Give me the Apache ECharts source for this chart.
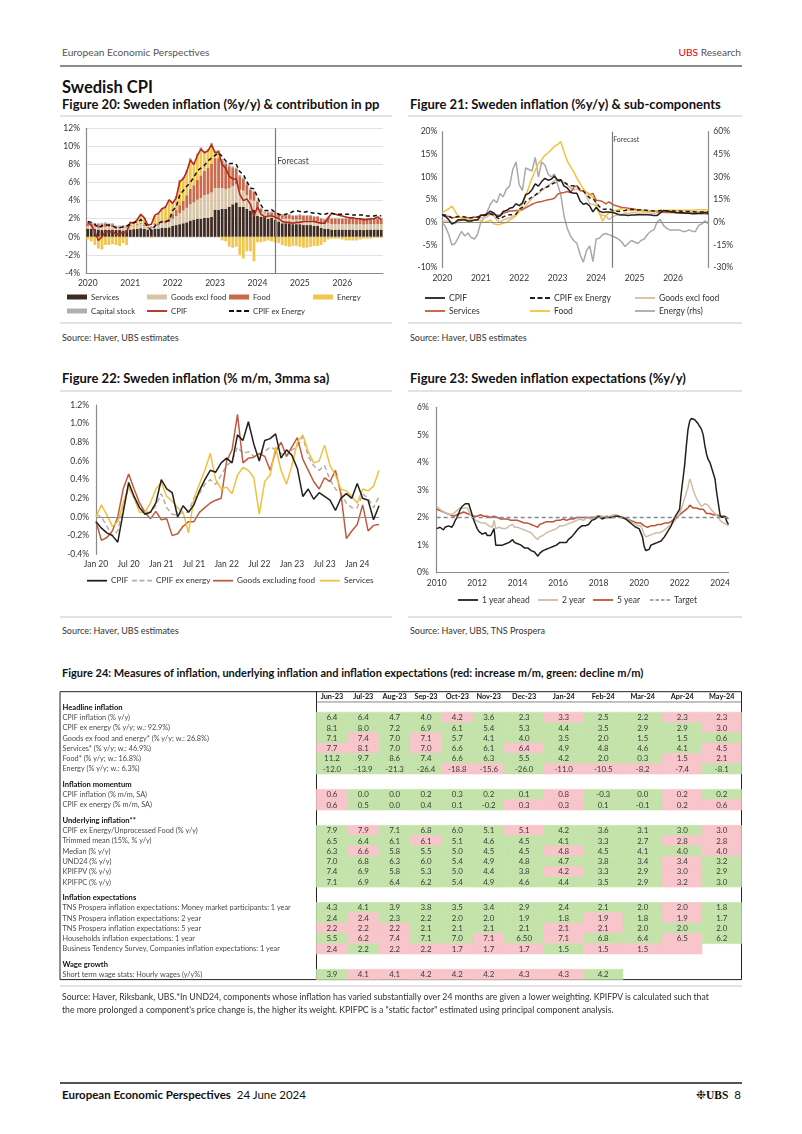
<!DOCTYPE html>
<html><head><meta charset="utf-8"><title>Swedish CPI</title>
<script src="https://cdn.jsdelivr.net/npm/echarts/dist/echarts.min.js"></script>
<style>
html,body{margin:0;padding:0;background:#fff;}
body{width:802px;height:1134px;position:relative;overflow:hidden;font-family:Lato,"Open Sans",sans-serif;color:#222;}
.t{position:absolute;white-space:nowrap;}
.hl{position:absolute;}
.ch{position:absolute;}
.ft{font-weight:700;font-size:13px;line-height:15px;color:#111;}
.src{font-size:9px;line-height:11px;color:#333;}
</style></head><body>

<div class="t" style="left:62px;top:45.5px;font-size:10.2px;line-height:13px;color:#555">European Economic Perspectives</div>
<div class="t" style="right:61px;top:45.5px;font-size:10.2px;line-height:13px;color:#555"><span style="color:#e60000">UBS</span> Research</div>
<div class="hl" style="left:60px;top:65px;width:682px;height:1.5px;background:#8c8c8c"></div>

<div class="t" style="left:62px;top:77px;font-size:16.5px;line-height:20px;font-weight:700;color:#111">Swedish CPI</div>
<div class="t ft" style="left:62px;top:96.5px">Figure 20: Sweden inflation (%y/y) &amp; contribution in pp</div>
<div class="t ft" style="left:410px;top:96.5px">Figure 21: Sweden inflation (%y/y) &amp; sub-components</div>

<div class="hl" style="left:60px;top:115px;width:332px;height:1.5px;background:#e3e3e3"></div>
<div class="hl" style="left:408px;top:115px;width:334px;height:1.5px;background:#e3e3e3"></div>
<div class="hl" style="left:60px;top:322px;width:332px;height:1.5px;background:#e3e3e3"></div>
<div class="hl" style="left:408px;top:322px;width:334px;height:1.5px;background:#e3e3e3"></div>

<div id="c20" class="ch" style="left:55px;top:118px;width:340px;height:205px"></div>
<div id="c21" class="ch" style="left:405px;top:118px;width:340px;height:205px"></div>

<div class="t src" style="left:62px;top:331.5px">Source: Haver, UBS estimates</div>
<div class="t src" style="left:410px;top:331.5px">Source: Haver, UBS estimates</div>

<div class="t ft" style="left:62px;top:370.5px">Figure 22: Sweden inflation (% m/m, 3mma sa)</div>
<div class="t ft" style="left:410px;top:370.5px">Figure 23: Sweden inflation expectations (%y/y)</div>

<div class="hl" style="left:60px;top:390px;width:332px;height:1.5px;background:#e3e3e3"></div>
<div class="hl" style="left:408px;top:390px;width:334px;height:1.5px;background:#e3e3e3"></div>
<div class="hl" style="left:60px;top:616px;width:332px;height:1.5px;background:#e3e3e3"></div>
<div class="hl" style="left:408px;top:616px;width:334px;height:1.5px;background:#e3e3e3"></div>

<div id="c22" class="ch" style="left:55px;top:392px;width:340px;height:200px"></div>
<div id="c23" class="ch" style="left:405px;top:392px;width:340px;height:222px"></div>

<div class="t src" style="left:62px;top:624.5px">Source: Haver, UBS estimates</div>
<div class="t src" style="left:410px;top:624.5px">Source: Haver, UBS, TNS Prospera</div>

<div class="t" style="left:62px;top:666px;font-weight:700;font-size:11px;line-height:14px;color:#111">Figure 24: Measures of inflation, underlying inflation and inflation expectations (red: increase m/m, green: decline m/m)</div>

<div id="ct" class="ch" style="left:58px;top:686px;width:690px;height:300px"></div>

<div class="hl" style="left:60px;top:985px;width:682px;height:2px;background:#e3e3e3"></div>
<div class="t" style="left:62px;top:991px;font-size:8.7px;line-height:12.5px;color:#333">Source: Haver, Riksbank, UBS.*In UND24, components whose inflation has varied substantially over 24 months are given a lower weighting. KPIFPV is calculated such that<br>the more prolonged a component's price change is, the higher its weight. KPIFPC is a "static factor" estimated using principal component analysis.</div>

<div class="hl" style="left:60px;top:1082px;width:682px;height:1.5px;background:#555"></div>
<div class="t" style="left:62px;top:1088px;font-size:11.5px;line-height:14px;color:#111"><b>European Economic Perspectives</b>&nbsp; 24 June 2024</div>
<div class="t" style="right:61px;top:1088px;font-size:11.5px;line-height:14px;color:#111">&#10057;<span style="font-family:'Liberation Serif',serif;font-weight:700">UBS</span>&nbsp; 8</div>

<script>
// ---------------- DATA ----------------
// Figure 20 / 21 : monthly Jan 2020 - Dec 2026
const YEARS_20 = ['2020','2021','2022','2023','2024','2025','2026'];
const MONTH_NUMS = ['01','02','03','04','05','06','07','08','09','10','11','12'];
const FORECAST_START = '2024-06';

const S20_SERVICES = [
 0.9,0.9,0.85,0.8,0.75,0.8,0.8,0.8,0.75,0.75,0.7,0.75,
 0.8,0.85,0.9,0.95,0.9,0.8,0.8,0.9,0.9,1.0,1.0,1.05,
 1.2,1.3,1.4,1.5,1.6,1.8,1.9,2.0,2.0,2.1,2.1,2.2,
 3.0,3.0,3.1,3.1,3.3,3.6,3.8,3.3,3.3,3.1,2.9,3.0,
 2.3,2.2,2.2,2.0,2.1,1.9,1.7,1.5,1.5,1.5,1.4,1.4,
 1.4,1.3,1.3,1.3,1.2,1.2,1.0,0.9,0.9,0.8,0.8,0.8,
 0.8,0.8,0.8,0.8,0.75,0.8,0.75,0.8,0.8,0.8,0.8,0.8];
const S20_GOODS = [
 0.3,0.3,0.3,0.2,0.3,0.3,0.3,0.3,0.2,0.2,0.3,0.3,
 0.4,0.3,0.4,0.5,0.3,0.2,0.2,0.4,0.4,0.5,0.5,0.6,
 0.8,1.0,1.2,1.4,1.6,1.8,1.9,2.1,2.3,2.5,2.6,2.7,
 2.4,2.4,2.3,2.2,2.1,2.0,2.0,1.9,1.8,1.5,1.2,1.0,
 0.9,0.5,0.4,0.4,0.2,0.4,0.4,0.5,0.5,0.5,0.5,0.5,
 0.5,0.5,0.5,0.5,0.5,0.5,0.5,0.5,0.6,0.6,0.6,0.6,
 0.6,0.6,0.6,0.6,0.6,0.6,0.6,0.6,0.6,0.6,0.6,0.6];
const S20_FOOD = [
 0.3,0.3,0.3,0.4,0.4,0.4,0.3,0.3,0.2,0.2,0.2,0.1,
 0.1,0.1,0.1,0.1,0.1,0.1,0.1,0.2,0.2,0.3,0.3,0.4,
 0.5,0.7,0.9,1.1,1.4,1.7,1.9,2.2,2.5,2.7,2.9,3.2,
 3.3,3.3,3.0,2.8,2.4,2.0,1.7,1.5,1.3,1.2,1.1,1.0,
 0.7,0.4,0.1,0.3,0.4,0.4,0.4,0.4,0.4,0.4,0.4,0.4,
 0.5,0.5,0.5,0.5,0.5,0.5,0.5,0.5,0.6,0.6,0.6,0.6,
 0.6,0.6,0.6,0.6,0.6,0.6,0.6,0.6,0.6,0.6,0.6,0.6];
const S20_ENERGY = [
 -0.3,-0.5,-0.9,-1.3,-1.4,-0.9,-0.9,-0.8,-0.9,-1.0,-0.7,-0.9,
 0.2,0.2,0.4,0.8,0.6,0.1,-0.1,0.7,0.9,1.2,1.4,1.9,
 1.2,1.3,2.6,2.4,2.6,3.2,2.3,2.7,2.9,2.0,1.9,2.1,
 0.6,0.7,-0.4,-0.5,-1.1,-1.2,-1.1,-2.0,-2.4,-1.6,-1.6,-2.7,
 -0.6,-0.6,-0.5,-0.4,-0.5,-0.6,-0.7,-0.9,-1.0,-1.1,-1.0,-1.0,
 -1.1,-1.2,-1.2,-1.1,-1.0,-1.0,-0.9,-0.6,-0.3,-0.2,-0.2,-0.2,
 -0.3,-0.4,-0.4,-0.4,-0.4,-0.3,-0.2,-0.2,-0.2,-0.1,-0.1,-0.1];
const S20_CAPITAL = [
 0.15,0.15,0.1,0.1,0.1,0.1,0.1,0.1,0.1,0.1,0.1,0.1,
 0.1,0.1,0.1,0.1,0.1,0.1,0.1,0.1,0.15,0.15,0.15,0.15,
 0.2,0.2,0.2,0.2,0.2,0.2,0.2,0.2,0.2,0.2,0.2,0.2,
 0.2,0.2,0.2,0.2,0.2,0.2,0.15,0.15,0.15,0.15,0.1,0.1,
 0.1,0.1,0.1,0.1,0.1,0.1,0.1,0.1,0.1,0.1,0.1,0.1,
 0.1,0.1,0.1,0.1,0.1,0.1,0.1,0.1,0.1,0.1,0.1,0.1,
 0.1,0.1,0.1,0.1,0.1,0.1,0.1,0.1,0.1,0.1,0.1,0.1];
const CPIF = [
 1.6,1.3,0.6,-0.4,0.0,0.6,0.5,0.6,0.3,0.3,0.5,0.5,
 1.6,1.5,1.9,2.5,2.1,1.3,1.4,2.4,2.6,3.1,3.3,4.1,
 3.7,4.3,6.1,6.4,7.2,8.5,8.0,9.0,9.7,9.3,9.5,10.2,
 9.3,9.4,8.0,7.6,6.7,6.4,6.4,4.7,4.0,4.2,3.6,2.3,
 3.3,2.5,2.2,2.3,2.3,2.2,2.0,1.7,1.6,1.6,1.5,1.6,
 1.6,1.7,1.7,1.7,1.7,1.6,1.5,1.5,2.1,2.6,2.5,2.4,
 2.3,2.2,2.1,2.1,2.0,2.0,1.9,1.9,2.0,2.0,2.2,1.9];
const CPIF_EX_ENERGY = [
 1.7,1.6,1.4,1.0,1.2,1.3,1.3,1.2,1.0,1.0,1.1,1.2,
 1.4,1.6,1.6,1.9,1.6,1.1,0.7,1.2,1.5,1.7,1.7,1.8,
 2.9,3.3,4.6,5.1,5.6,6.0,6.6,7.3,7.6,7.9,8.4,8.7,
 9.0,9.3,8.9,8.4,8.1,8.1,8.0,7.2,6.9,6.1,5.4,5.3,
 4.4,3.5,2.9,2.9,3.0,2.7,2.5,2.4,2.5,2.6,2.8,2.9,
 2.8,2.7,2.8,2.7,2.6,2.6,2.5,2.5,2.6,2.6,2.5,2.5,
 2.5,2.5,2.5,2.4,2.4,2.4,2.4,2.3,2.3,2.3,2.4,2.3];
const GOODS21 = [
 0.5,0.3,0.2,0.0,-0.3,0.2,0.5,0.4,0.2,0.3,0.5,0.6,
 1.0,1.0,1.2,1.8,1.5,0.5,0.0,0.5,0.8,1.0,1.3,1.8,
 2.5,3.0,3.6,4.5,5.3,6.0,6.3,7.0,7.6,8.1,8.6,9.2,
 9.5,9.2,8.8,8.2,7.6,7.1,7.4,7.0,7.1,5.7,4.1,4.0,
 3.5,2.0,1.5,1.5,0.6,1.2,1.5,1.8,1.8,2.0,2.0,2.1,
 2.1,2.0,2.0,2.1,2.1,2.0,2.0,2.1,2.2,2.2,2.2,2.2,
 2.2,2.2,2.2,2.2,2.3,2.3,2.3,2.3,2.3,2.3,2.3,2.3];
const SERVICES21 = [
 1.6,1.4,1.3,1.0,1.1,1.2,1.0,1.1,1.0,1.0,1.2,1.1,
 1.5,1.7,1.7,2.0,1.9,1.6,1.5,2.0,2.2,2.5,2.5,2.6,
 2.6,2.8,3.2,3.6,4.0,4.3,4.5,4.6,4.8,5.0,5.1,5.3,
 6.2,6.5,6.6,6.8,6.5,7.7,8.1,7.0,7.0,6.6,6.1,6.4,
 4.9,4.8,4.6,4.1,4.5,4.0,3.7,3.5,3.3,3.2,3.1,3.0,
 2.9,2.8,2.7,2.6,2.6,2.5,2.5,2.4,2.3,2.3,2.2,2.2,
 2.2,2.1,2.1,2.0,2.0,2.0,2.0,2.0,1.9,1.9,1.9,1.9];
const FOOD21 = [
 2.2,2.6,3.0,3.6,2.4,1.2,1.0,0.9,0.5,0.6,0.5,0.6,
 0.4,0.0,0.2,0.5,-0.3,-0.5,-0.4,-0.2,0.0,0.5,0.9,1.5,
 2.3,4.0,5.8,7.8,9.8,11.5,13.0,13.8,14.8,15.3,16.0,16.8,
 17.2,17.8,15.5,13.5,12.3,11.2,9.7,8.6,7.4,6.6,6.3,5.5,
 4.2,2.0,0.3,1.5,2.1,2.3,2.6,2.8,3.0,3.0,2.8,2.6,
 2.6,2.5,2.5,2.5,2.6,2.6,2.5,2.5,2.6,2.6,2.7,2.7,
 2.7,2.7,2.7,2.7,2.7,2.7,2.7,2.8,2.8,2.8,2.8,2.8];
const ENERGY21 = [
 0,-3,-8,-15,-14,-10,-6,-9,-7,-10,-11,-8,
 0,3,7,12,15,13,19,17,22,24,35,40,
 25,21,36,35,34,43,30,40,38,32,30,32,
 25,18,4,-4,-9,-12,-13.9,-21.3,-26.4,-18.8,-15.6,-26.0,
 -11.0,-10.5,-8.2,-7.4,-8.1,-9,-10,-11,-13,-16,-14,-12,
 -13,-14,-12,-11,-8,-6,-5,0,2,-2,-4,-5,
 -5,-5,-5,-6,-6,-5,-6,-6,-2,-1,1,-1];

// Figure 22 : monthly Jan 2020 - May 2024
const MONTH_ABBR = ['Jan','Feb','Mar','Apr','May','Jun','Jul','Aug','Sep','Oct','Nov','Dec'];
const YEARS_22 = ['20','21','22','23','24'];
const LAST_MONTHS_22 = 53;
const CPIF22 = [-0.05,-0.12,-0.17,-0.2,-0.27,0.05,0.37,0.22,0.1,0.03,0.05,0.15,
 0.4,0.3,0.26,0.0,0.12,0.05,0.13,0.28,0.4,0.5,0.48,0.58,
 0.63,0.58,0.88,0.82,1.02,0.78,0.6,0.82,0.84,0.89,0.63,0.72,
 0.66,0.52,0.22,0.3,0.19,0.26,0.22,0.18,0.07,0.2,0.25,0.2,
 0.36,0.2,0.18,-0.03,0.12];
const CPIFX22 = [0.03,0.0,-0.1,-0.2,-0.15,0.1,0.32,0.2,0.1,0.05,0.05,0.12,
 0.25,0.1,0.03,0.02,0.05,0.05,0.2,0.25,0.35,0.4,0.35,0.45,
 0.55,0.6,0.75,0.68,0.7,0.65,0.67,0.7,0.75,0.72,0.68,0.65,
 0.72,0.75,0.86,0.65,0.55,0.5,0.55,0.4,0.3,0.25,0.15,0.1,
 0.1,0.25,0.2,0.1,0.22];
const GOODS22 = [-0.05,-0.25,-0.22,-0.15,0.0,0.3,0.46,0.3,0.15,0.05,-0.02,0.06,
 -0.03,-0.02,-0.2,-0.18,-0.1,-0.05,-0.05,0.05,0.1,0.15,0.18,0.2,
 0.6,0.72,1.1,0.58,0.63,0.64,0.68,0.65,0.5,0.7,0.8,0.65,
 0.75,0.85,0.62,0.5,0.38,0.3,0.42,0.38,0.5,0.25,-0.23,-0.15,
 -0.08,0.13,-0.15,-0.09,-0.08];
const SERVICES22 = [0.0,0.13,0.02,-0.1,-0.05,0.15,0.33,0.2,0.05,0.05,0.15,0.3,
 0.37,0.22,0.17,0.1,0.05,-0.17,0.2,0.35,0.5,0.68,0.4,0.3,
 0.32,0.25,0.45,0.53,0.5,0.42,0.03,0.38,0.45,0.75,0.5,0.35,
 0.55,0.8,0.88,0.7,0.58,0.6,0.77,0.55,0.45,0.3,0.28,0.22,
 0.15,0.3,0.28,0.33,0.5];

// Figure 23 : monthly Jan 2010 - Jun 2024
const YEARS_23 = ['2010','2011','2012','2013','2014','2015','2016','2017','2018','2019','2020','2021','2022','2023','2024'];
const LAST_MONTHS_23 = 174;
const TARGET = 2;
const Y1_23 = [
 1.6,1.6,1.65,1.6,1.55,1.65,1.6,1.7,1.7,1.65,1.75,1.9,
 2.0,2.15,2.3,2.4,2.45,2.5,2.55,2.5,2.3,2.1,1.9,1.75,
 1.6,1.5,1.45,1.4,1.4,1.45,1.35,1.4,1.35,1.3,1.6,1.0,
 1.0,1.0,1.05,1.0,1.0,1.05,1.0,1.1,1.15,1.2,1.1,1.05,
 1.05,1.0,1.0,0.95,0.9,0.9,0.9,0.85,0.8,0.8,0.75,0.7,
 0.6,0.7,0.75,0.8,0.85,0.85,0.9,0.9,0.95,0.95,1.0,1.0,
 1.05,1.1,1.1,1.1,1.05,1.1,1.2,1.2,1.3,1.35,1.45,1.5,
 1.6,1.65,1.7,1.7,1.7,1.75,1.75,1.8,1.9,1.9,1.95,2.0,
 2.05,2.0,1.95,2.0,2.0,1.95,2.0,2.05,2.0,2.0,2.05,2.1,
 2.05,2.05,2.0,2.0,1.95,1.9,1.85,1.8,1.75,1.7,1.65,1.6,
 1.6,1.6,1.3,0.95,0.8,0.8,0.85,1.0,1.0,1.05,1.05,1.1,
 1.1,1.15,1.2,1.3,1.4,1.5,1.6,1.7,1.85,2.0,2.1,2.2,
 2.3,2.9,3.4,3.9,4.6,5.2,5.5,5.6,5.6,5.55,5.5,5.4,
 5.35,5.2,5.0,4.6,4.3,4.1,4.0,3.8,3.6,3.4,2.9,2.5,
 2.1,2.0,2.0,2.05,1.85,1.75];
const Y2_23 = [
 2.4,2.35,2.3,2.25,2.2,2.2,2.15,2.1,2.1,2.1,2.15,2.2,
 2.25,2.3,2.35,2.4,2.35,2.3,2.35,2.25,2.1,2.0,1.95,1.9,
 1.85,1.85,1.8,1.8,1.75,1.8,1.75,1.7,1.7,1.65,1.9,1.6,
 1.6,1.65,1.65,1.6,1.6,1.6,1.65,1.7,1.7,1.75,1.65,1.6,
 1.65,1.6,1.6,1.55,1.55,1.5,1.5,1.45,1.45,1.4,1.3,1.25,
 1.2,1.3,1.35,1.35,1.4,1.45,1.45,1.5,1.55,1.55,1.6,1.6,
 1.65,1.7,1.65,1.7,1.75,1.75,1.8,1.8,1.85,1.85,1.9,1.9,
 1.9,1.95,1.95,1.9,1.95,2.0,2.0,1.95,2.0,2.0,2.05,2.05,
 2.1,2.05,2.0,2.05,2.0,2.0,2.05,2.05,2.1,2.1,2.05,2.1,
 2.05,2.0,2.0,2.0,1.95,1.95,1.9,1.85,1.8,1.8,1.75,1.7,
 1.7,1.7,1.55,1.4,1.3,1.3,1.35,1.4,1.4,1.4,1.45,1.45,
 1.45,1.45,1.5,1.55,1.6,1.65,1.7,1.75,1.8,1.85,1.95,2.05,
 2.15,2.3,2.5,2.7,2.9,3.1,3.4,3.25,3.0,2.85,2.7,2.6,
 2.5,2.4,2.35,2.5,2.5,2.45,2.35,2.3,2.2,2.15,2.1,2.0,
 1.9,1.85,1.8,1.8,1.75,1.7];
const Y5_23 = [
 2.3,2.25,2.25,2.2,2.2,2.15,2.15,2.1,2.1,2.05,2.05,2.1,
 2.1,2.15,2.15,2.2,2.2,2.15,2.15,2.1,2.1,2.1,2.05,2.05,
 2.05,2.05,2.1,2.05,2.05,2.0,2.05,2.05,2.0,2.0,2.05,2.0,
 2.0,2.0,1.95,2.0,1.95,1.95,1.95,1.95,1.9,1.9,1.9,1.9,
 1.9,1.85,1.85,1.85,1.8,1.8,1.8,1.75,1.75,1.75,1.7,1.7,
 1.65,1.75,1.8,1.8,1.85,1.85,1.85,1.85,1.85,1.85,1.9,1.9,
 1.9,1.9,1.9,1.95,1.95,1.9,1.95,1.95,1.95,1.95,1.95,2.0,
 1.95,2.0,2.0,2.0,1.95,2.0,2.0,2.0,2.0,2.0,2.0,2.05,
 2.05,2.05,2.0,2.0,2.05,2.05,2.0,2.0,2.0,2.05,2.05,2.05,
 2.0,2.0,2.0,2.0,1.95,1.95,1.9,1.9,1.85,1.85,1.8,1.8,
 1.8,1.8,1.75,1.7,1.65,1.65,1.7,1.7,1.7,1.7,1.75,1.75,
 1.75,1.75,1.75,1.8,1.8,1.8,1.85,1.85,1.9,1.95,2.0,2.05,
 2.1,2.15,2.2,2.25,2.3,2.35,2.45,2.4,2.35,2.35,2.35,2.3,
 2.3,2.35,2.3,2.25,2.15,2.15,2.15,2.1,2.1,2.1,2.1,2.1,
 2.05,2.05,2.05,2.0,2.0,1.95];

// Figure 24 table
const T_MONTHS = ['Jun-23','Jul-23','Aug-23','Sep-23','Oct-23','Nov-23','Dec-23','Jan-24','Feb-24','Mar-24','Apr-24','May-24'];
const T_SECTIONS = ['Headline inflation','Inflation momentum','Underlying inflation**','Inflation expectations','Wage growth'];
const T_ROW_LABELS = [
 'Headline inflation',
 'CPIF inflation (% y/y)',
 'CPIF ex energy (% y/y; w.: 92.9%)',
 'Goods ex food and energy* (% y/y; w.: 26.8%)',
 'Services* (% y/y; w.: 46.9%)',
 'Food* (% y/y; w.: 16.8%)',
 'Energy (% y/y; w.: 6.3%)',
 'Inflation momentum',
 'CPIF inflation (% m/m, SA)',
 'CPIF ex energy (% m/m, SA)',
 'Underlying inflation**',
 'CPIF ex Energy/Unprocessed Food (% y/y)',
 'Trimmed mean (15%, % y/y)',
 'Median (% y/y)',
 'UND24 (% y/y)',
 'KPIFPV (% y/y)',
 'KPIFPC (% y/y)',
 'Inflation expectations',
 'TNS Prospera inflation expectations: Money market participants: 1 year',
 'TNS Prospera inflation expectations: 2 year',
 'TNS Prospera inflation expectations: 5 year',
 'Households inflation expectations: 1 year',
 'Business Tendency Survey, Companies inflation expectations: 1 year',
 'Wage growth',
 'Short term wage stats: Hourly wages (y/y%)'];
const T_VALUES = [
 null,
 ['6.4','6.4','4.7','4.0','4.2','3.6','2.3','3.3','2.5','2.2','2.3','2.3'],
 ['8.1','8.0','7.2','6.9','6.1','5.4','5.3','4.4','3.5','2.9','2.9','3.0'],
 ['7.1','7.4','7.0','7.1','5.7','4.1','4.0','3.5','2.0','1.5','1.5','0.6'],
 ['7.7','8.1','7.0','7.0','6.6','6.1','6.4','4.9','4.8','4.6','4.1','4.5'],
 ['11.2','9.7','8.6','7.4','6.6','6.3','5.5','4.2','2.0','0.3','1.5','2.1'],
 ['-12.0','-13.9','-21.3','-26.4','-18.8','-15.6','-26.0','-11.0','-10.5','-8.2','-7.4','-8.1'],
 null,
 ['0.6','0.0','0.0','0.2','0.3','0.2','0.1','0.8','-0.3','0.0','0.2','0.2'],
 ['0.6','0.5','0.0','0.4','0.1','-0.2','0.3','0.3','0.1','-0.1','0.2','0.6'],
 null,
 ['7.9','7.9','7.1','6.8','6.0','5.1','5.1','4.2','3.6','3.1','3.0','3.0'],
 ['6.5','6.4','6.1','6.1','5.1','4.6','4.5','4.1','3.3','2.7','2.8','2.8'],
 ['6.3','6.6','5.8','5.5','5.0','4.5','4.5','4.8','4.5','4.1','4.0','4.0'],
 ['7.0','6.8','6.3','6.0','5.4','4.9','4.8','4.7','3.8','3.4','3.4','3.2'],
 ['7.4','6.9','5.8','5.3','5.0','4.4','3.8','4.2','3.3','2.9','3.0','2.9'],
 ['7.1','6.9','6.4','6.2','5.4','4.9','4.6','4.4','3.5','2.9','3.2','3.0'],
 null,
 ['4.3','4.1','3.9','3.8','3.5','3.4','2.9','2.4','2.1','2.0','2.0','1.8'],
 ['2.4','2.4','2.3','2.2','2.0','2.0','1.9','1.8','1.9','1.8','1.9','1.7'],
 ['2.2','2.2','2.2','2.1','2.1','2.1','2.1','2.1','2.1','2.0','2.0','2.0'],
 ['5.5','6.2','7.4','7.1','7.0','7.1','6.50','7.1','6.8','6.4','6.5','6.2'],
 ['2.4','2.2','2.2','2.2','1.7','1.7','1.7','1.5','1.5','1.5','',''],
 null,
 ['3.9','4.1','4.1','4.2','4.2','4.2','4.3','4.3','4.2','','','']];
// r = increase m/m (red), g = decline m/m (green), - = no shading
const T_FLAGS = [
 null,
 'ggggrggrggrr','gggggggggggr','grgrgggggggg','rrgrggrggggr','ggggggggggrr','ggggrrgrrrrg',
 null,
 'rggggggrggrg','rgggggrrggrr',
 null,
 'grggggrggggr','gggrggggggrr','grgggggrgggr','ggggggggggrg','gggggggrggrg','ggggggggggrg',
 null,
 'ggggggggggrg','grggggggrgrg','rrrggggrrggg','grrggrgrggrg','rgrrrrrgrrr-',
 null,
 'grrrrrrrg---'];

// ---------------- STYLE / LAYOUT ----------------
const FONT = 'Lato, "Open Sans", sans-serif';
const AXC = '#8a8a8a';
const TXT = '#333';
const GREEN = '#c4e3aa';
const PINK = '#f7c5ca';
const T_COL_WEIGHTS = [1,1,1,1,1,1,1.26,1.26,1.26,1.26,1.26,1.26];
const T_LABEL_COL = 8.17;
const T_SECTION_GAP = 0.5;
const ICON_BAR = 'rect';
const ICON_LINE = 'path://M0,0H20V1.8H0Z';
const ICON_DASH = 'path://M0,0H5V1.8H0Z M7.5,0H12.5V1.8H7.5Z M15,0H20V1.8H15Z';
const ICON_DASH4 = 'path://M0,0H3.5V1.6H0Z M5.5,0H9V1.6H5.5Z M11,0H14.5V1.6H11Z M16.5,0H20V1.6H16.5Z';

function legendItem(name, left, top, icon, fs) {
  const isBar = icon === ICON_BAR;
  return { data:[{name:name, icon:icon}], left:left, top:top, padding:0, itemWidth:20, itemHeight: isBar ? 5 : 1.8, itemGap:0,
    selectedMode:false, textStyle:{fontFamily:FONT, fontSize:fs||8.5, color:TXT, padding:[0,0,0,-1], lineHeight:10} };
}
function yLab(fmt, margin) {
  return {fontFamily:FONT, fontSize:8.5, color:TXT, margin:margin, formatter:fmt};
}
const noSplit = {show:false};
const axLine = {show:true, lineStyle:{color:AXC, width:1.2}};

// ---------------- FIGURE 20 ----------------
const CAT20 = YEARS_20.flatMap(y => MONTH_NUMS.map(m => y + '-' + m));
const c20 = echarts.init(document.getElementById('c20'));
function barSeries(name, data, color) {
  return {name:name, type:'bar', stack:'c', data:data, barCategoryGap:'22%',
    itemStyle:{color:color}, emphasis:{disabled:true}};
}
c20.setOption({
  animation:false,
  textStyle:{fontFamily:FONT},
  grid:{left:31, right:12, top:10.3, bottom:50},
  xAxis:{type:'category', data:CAT20, boundaryGap:true,
    axisLine:{show:true, onZero:false, lineStyle:{color:AXC, width:1}}, axisTick:{show:false},
    axisLabel:{interval:(i)=>i%12===0, formatter:(v)=>v.slice(0,4), fontFamily:FONT, fontSize:8.5, color:TXT, margin:6}},
  yAxis:{type:'value', min:-4, max:12, interval:2,
    axisLine:axLine, axisTick:{show:false},
    axisLabel:yLab('{value}%', 6),
    splitLine:{show:true, lineStyle:{color:'#dcdcdc', width:0.8}}},
  legend:[
    legendItem('Services',12,174,ICON_BAR,7.8), legendItem('Goods excl food',92,174,ICON_BAR,7.8),
    legendItem('Food',174,174,ICON_BAR,7.8), legendItem('Energy',258,174,ICON_BAR,7.8),
    legendItem('Capital stock',12,188,ICON_BAR,7.8), legendItem('CPIF',92,188,ICON_LINE,7.8),
    legendItem('CPIF ex Energy',174,188,ICON_DASH,7.8)],
  series:[
    barSeries('Services', S20_SERVICES, '#3e2b22'),
    barSeries('Goods excl food', S20_GOODS, '#d8c4a6'),
    barSeries('Food', S20_FOOD, '#c96a4d'),
    barSeries('Energy', S20_ENERGY, '#f1c64c'),
    barSeries('Capital stock', S20_CAPITAL, '#b0b0b0'),
    {name:'CPIF', type:'line', data:CPIF, symbol:'none', z:5, lineStyle:{color:'#b3281d', width:1.6}, itemStyle:{color:'#b3281d'},
      markLine:{silent:true, symbol:['none','none'], label:{show:false}, lineStyle:{color:'#7a7a7a', type:'solid', width:1.2},
        data:[{xAxis:FORECAST_START}]}},
    {name:'CPIF ex Energy', type:'line', data:CPIF_EX_ENERGY, symbol:'none', z:6, lineStyle:{color:'#111', width:1.5, type:[4,3]}, itemStyle:{color:'#111'}}
  ]
});
{
  const p = c20.convertToPixel({xAxisIndex:0, yAxisIndex:0}, [FORECAST_START, 8.4]);
  c20.setOption({graphic:[{type:'text', x:p[0]+2, y:p[1], style:{text:'Forecast', fill:'#444', font:'8.5px '+FONT, verticalAlign:'middle', textVerticalAlign:'middle'}}]});
}

// ---------------- FIGURE 21 ----------------
const c21 = echarts.init(document.getElementById('c21'));
function line21(name, data, color, extra) {
  return Object.assign({name:name, type:'line', data:data, symbol:'none', lineStyle:{color:color, width:1.5}, itemStyle:{color:color}, emphasis:{disabled:true}}, extra||{});
}
c21.setOption({
  animation:false,
  textStyle:{fontFamily:FONT},
  grid:{left:37.3, right:36.7, top:13.7, bottom:55.3},
  xAxis:{type:'category', data:CAT20, boundaryGap:false,
    axisLine:{show:false}, axisTick:{show:false},
    axisLabel:{interval:(i)=>i%12===0, formatter:(v)=>v.slice(0,4), fontFamily:FONT, fontSize:8.5, color:TXT, margin:6}},
  yAxis:[
    {type:'value', min:-10, max:20, interval:5, axisLine:axLine, axisTick:{show:false}, axisLabel:yLab('{value}%',5), splitLine:noSplit},
    {type:'value', min:-30, max:60, interval:15, position:'right', axisLine:axLine, axisTick:{show:false}, axisLabel:yLab('{value}%',5), splitLine:noSplit}],
  legend:[
    legendItem('CPIF',20,175,ICON_LINE), legendItem('CPIF ex Energy',125,175,ICON_DASH), legendItem('Goods excl food',230,175,ICON_LINE),
    legendItem('Services',20,188,ICON_LINE), legendItem('Food',125,188,ICON_LINE), legendItem('Energy (rhs)',230,188,ICON_LINE)],
  series:[
    line21('Energy (rhs)', ENERGY21, '#a9a9a9', {yAxisIndex:1, z:2}),
    line21('Goods excl food', GOODS21, '#d9bd9c', {z:3}),
    line21('Services', SERVICES21, '#c65a3c', {z:3}),
    line21('Food', FOOD21, '#f1c43c', {z:3}),
    line21('CPIF', CPIF, '#231f1c', {z:5,
      markLine:{silent:true, symbol:['none','none'], label:{show:false}, lineStyle:{color:'#7a7a7a', type:'solid', width:1.2},
        data:[{xAxis:FORECAST_START}, {yAxis:0, lineStyle:{color:AXC, width:1}}]}}),
    line21('CPIF ex Energy', CPIF_EX_ENERGY, '#231f1c', {z:6, lineStyle:{color:'#231f1c', width:1.5, type:[4,3]}})
  ]
});
{
  const p = c21.convertToPixel({xAxisIndex:0, yAxisIndex:0}, [FORECAST_START, 18.2]);
  c21.setOption({graphic:[{type:'text', x:p[0]+1, y:p[1], style:{text:'Forecast', fill:'#444', font:'7px '+FONT, verticalAlign:'middle', textVerticalAlign:'middle'}}]});
}

// ---------------- FIGURE 22 ----------------
const CAT22 = YEARS_22.flatMap(y => MONTH_ABBR.map(m => m + ' ' + y)).slice(0, LAST_MONTHS_22);
const c22 = echarts.init(document.getElementById('c22'));
c22.setOption({
  animation:false,
  textStyle:{fontFamily:FONT},
  grid:{left:41, right:16, top:13, bottom:37.7},
  xAxis:{type:'category', data:CAT22, boundaryGap:false,
    axisLine:{show:false}, axisTick:{show:false},
    axisLabel:{interval:(i)=>i%6===0, fontFamily:FONT, fontSize:8.5, color:TXT, margin:5}},
  yAxis:{type:'value', min:-0.4, max:1.2, interval:0.2, axisLine:axLine, axisTick:{show:false},
    axisLabel:yLab((v)=>v.toFixed(1)+'%', 7), splitLine:noSplit},
  legend:[legendItem('CPIF',32,183.7,ICON_LINE,8.2), legendItem('CPIF ex energy',77,183.7,ICON_DASH,8.2),
    legendItem('Goods excluding food',158,183.7,ICON_LINE,8.2), legendItem('Services',265,183.7,ICON_LINE,8.2)],
  series:[
    line21('CPIF ex energy', CPIFX22, '#b9ae9f', {z:2, lineStyle:{color:'#b9ae9f', width:1.5, type:[5,3]}}),
    line21('Goods excluding food', GOODS22, '#c25a3f', {z:3}),
    line21('Services', SERVICES22, '#f0c040', {z:3}),
    line21('CPIF', CPIF22, '#231f1c', {z:5,
      markLine:{silent:true, symbol:['none','none'], label:{show:false}, lineStyle:{color:AXC, type:'solid', width:1}, data:[{yAxis:0}]}})
  ]
});

// ---------------- FIGURE 23 ----------------
const CAT23 = YEARS_23.flatMap(y => MONTH_NUMS.map(m => y + '-' + m)).slice(0, LAST_MONTHS_23);
const c23 = echarts.init(document.getElementById('c23'));
c23.setOption({
  animation:false,
  textStyle:{fontFamily:FONT},
  grid:{left:31.7, right:16.5, top:15.3, bottom:41.3},
  xAxis:{type:'category', data:CAT23, boundaryGap:false,
    axisLine:{show:true, lineStyle:{color:AXC, width:1.2}}, axisTick:{show:false},
    axisLabel:{interval:(i)=>i%24===0, formatter:(v)=>v.slice(0,4), fontFamily:FONT, fontSize:8.5, color:TXT, margin:6}},
  yAxis:{type:'value', min:0, max:6, interval:1, axisLine:axLine, axisTick:{show:false}, axisLabel:yLab('{value}%',8), splitLine:noSplit},
  legend:[legendItem('1 year ahead',53,203,ICON_LINE), legendItem('2 year',133,203,ICON_LINE),
    legendItem('5 year',188,203,ICON_LINE), legendItem('Target',245,203,ICON_DASH4)],
  series:[
    line21('Target', [], '#7d8b9b', {z:1, lineStyle:{color:'#7d8b9b', width:1.3, type:[4,3]},
      markLine:{silent:true, symbol:['none','none'], label:{show:false}, lineStyle:{color:'#7d8b9b', type:[4,3], width:1.3}, data:[{yAxis:TARGET}]}}),
    line21('5 year', Y5_23, '#c4503a', {z:2}),
    line21('2 year', Y2_23, '#cfbda5', {z:3}),
    line21('1 year ahead', Y1_23, '#231f1c', {z:4})
  ]
});

// ---------------- FIGURE 24 TABLE ----------------
const colStart = [];
{ let acc = 0; T_COL_WEIGHTS.forEach(w => { colStart.push(acc); acc += w; }); }
const colTotal = T_COL_WEIGHTS.reduce((a,b)=>a+b,0);
const tItems = [];
T_MONTHS.forEach((m,c) => tItems.push({kind:'head', c:c, pos:0, text:m}));
{
  let pos = 0;
  T_ROW_LABELS.forEach((lab, r) => {
    const isSec = T_SECTIONS.includes(lab);
    pos += 1;
    if (isSec && r > 0) pos += T_SECTION_GAP;
    tItems.push({kind: isSec ? 'sec' : 'label', c:-1, pos:pos, text:lab});
    if (!isSec) {
      T_VALUES[r].forEach((v,c) => tItems.push({kind:'cell', c:c, pos:pos, text:v, flag:T_FLAGS[r][c]}));
    }
  });
}
const tMaxPos = Math.max(...tItems.map(it=>it.pos));
const ct = echarts.init(document.getElementById('ct'));
ct.setOption({
  animation:false,
  grid:{left:2, right:6.5, top:5.7, bottom:6.4, show:true, borderColor:'#222', borderWidth:1},
  xAxis:{type:'value', min:-T_LABEL_COL, max:colTotal, show:false},
  yAxis:{type:'value', min:-0.5, max:tMaxPos+0.5, inverse:true,
    axisLine:{show:true, onZero:true, lineStyle:{color:'#222', width:1}}, axisTick:{show:false}, axisLabel:{show:false}, splitLine:{show:false}},
  series:[{
    type:'custom', silent:true, clip:false,
    data: tItems.map(it => [it.c, it.pos]),
    renderItem: function(params, api) {
      const it = tItems[params.dataIndex];
      if (it.kind === 'cell' || it.kind === 'head') {
        const x0 = colStart[it.c], x1 = x0 + T_COL_WEIGHTS[it.c];
        const p0 = api.coord([x0, it.pos - 0.5]), p1 = api.coord([x1, it.pos + 0.5]);
        const children = [];
        if (it.flag === 'g' || it.flag === 'r') {
          const col = it.flag === 'g' ? GREEN : PINK;
          children.push({type:'rect', shape:{x:p0[0], y:p0[1], width:p1[0]-p0[0], height:p1[1]-p0[1]},
            style:{fill:col, stroke:col, lineWidth:0.6}});
        }
        const isHead = it.kind === 'head';
        children.push({type:'text', z2:5, style:{text:it.text, x:(p0[0]+p1[0])/2, y:(p0[1]+p1[1])/2 + 0.3,
          align:'center', verticalAlign:'middle', textAlign:'center', textVerticalAlign:'middle',
          fill: isHead ? '#111' : '#3a3a3a', font: (isHead ? '700 7.3px ' : '7.9px ') + FONT}});
        if (isHead) {
          children.push({type:'line', shape:{x1:p0[0], y1:p1[1], x2:p1[0], y2:p1[1]}, style:{stroke:'#666', lineWidth:0.8}});
        }
        return {type:'group', children:children};
      } else {
        const p = api.coord([-T_LABEL_COL, it.pos]);
        const isSec = it.kind === 'sec';
        return {type:'text', style:{text:it.text, x:p[0]+2.5, y:p[1]+0.3, align:'left', verticalAlign:'middle',
          textAlign:'left', textVerticalAlign:'middle',
          fill: isSec ? '#111' : '#4a4a4a', font:(isSec ? '700 7.6px ' : '7.3px ') + FONT}};
      }
    }
  }]
});
</script>
</body></html>
